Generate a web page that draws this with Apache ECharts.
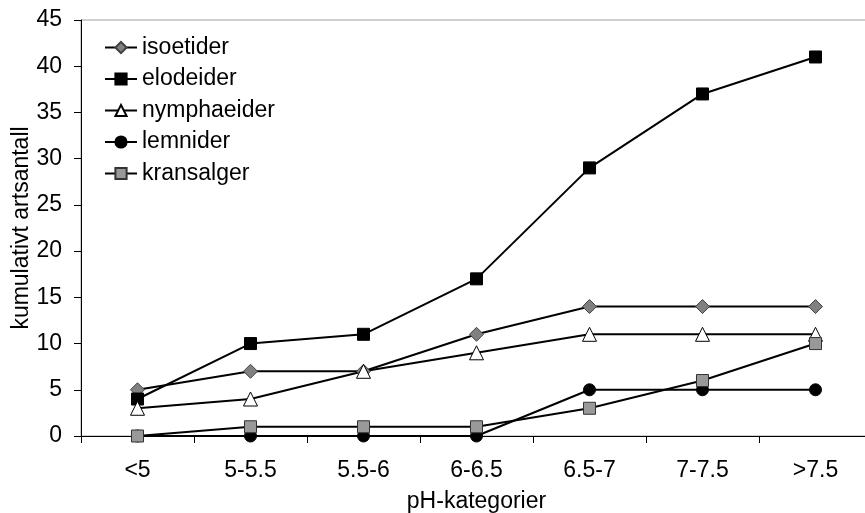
<!DOCTYPE html>
<html>
<head>
<meta charset="utf-8">
<script src="https://cdn.jsdelivr.net/npm/echarts@6/dist/echarts.min.js"></script>
<style>html,body{margin:0;padding:0;background:#fff}#c{width:865px;height:513px}</style>
</head>
<body>
<div id="c"></div>
<script>
const categories = ['<5', '5-5.5', '5.5-6', '6-6.5', '6.5-7', '7-7.5', '>7.5'];
const isoetider = [5, 7, 7, 11, 14, 14, 14];
const elodeider = [4, 10, 11, 17, 29, 37, 41];
const nymphaeider = [3, 4, 7, 9, 11, 11, 11];
const lemnider = [0, 0, 0, 0, 5, 5, 5];
const kransalger = [0, 1, 1, 1, 3, 6, 10];

const font = 'Liberation Sans, Arial, sans-serif';
const fs = 23;
function s(name, data, symbol, size, fill, border) {
  return {
    name, type: 'line', data, symbol, symbolSize: size,
    lineStyle: { color: '#000', width: 2 },
    itemStyle: { color: fill, borderColor: border, borderWidth: 1 },
    emphasis: { disabled: true },
    animation: false
  };
}
const chart = echarts.init(document.getElementById('c'));
chart.setOption({
  animation: false,
  grid: { left: 81, right: -7, top: 20, bottom: 77, show: true, borderColor: '#a0a0a0', borderWidth: 1,
          containLabel: false, outerBoundsMode: 'none' },
  legend: {
    left: 99, top: 31, orient: 'vertical', itemGap: 8.5, itemWidth: 32, itemHeight: 14,
    textStyle: { fontFamily: font, fontSize: fs, color: '#000' },
    data: ['isoetider', 'elodeider', 'nymphaeider', 'lemnider', 'kransalger']
  },
  xAxis: {
    type: 'category', data: categories, boundaryGap: true,
    name: 'pH-kategorier', nameLocation: 'middle', nameGap: 54, nameMoveOverlap: false,
    nameTextStyle: { fontFamily: font, fontSize: fs, color: '#000' },
    axisLine: { lineStyle: { color: '#000', width: 1 } },
    axisTick: { show: true, length: 7, lineStyle: { color: '#000' } },
    axisLabel: { fontFamily: font, fontSize: fs, color: '#000', margin: 23 },
    splitLine: { show: false }
  },
  yAxis: {
    type: 'value', min: 0, max: 45, interval: 5,
    name: 'kumulativt artsantall', nameLocation: 'middle', nameGap: 48, nameMoveOverlap: false,
    nameTextStyle: { fontFamily: font, fontSize: fs, color: '#000' },
    axisLine: { show: true, lineStyle: { color: '#000', width: 1 } },
    axisTick: { show: true, length: 7, lineStyle: { color: '#000' } },
    axisLabel: { fontFamily: font, fontSize: fs, color: '#000', margin: 19 },
    splitLine: { show: false }
  },
  series: [
    s('isoetider', isoetider, 'diamond', 14, '#808080', '#404040'),
    s('elodeider', elodeider, 'rect', 12, '#000', '#000'),
    s('nymphaeider', nymphaeider, 'triangle', 14, '#fff', '#000'),
    s('lemnider', lemnider, 'circle', 12, '#000', '#000'),
    s('kransalger', kransalger, 'rect', 12, '#999', '#333')
  ]
});
</script>
</body>
</html>
